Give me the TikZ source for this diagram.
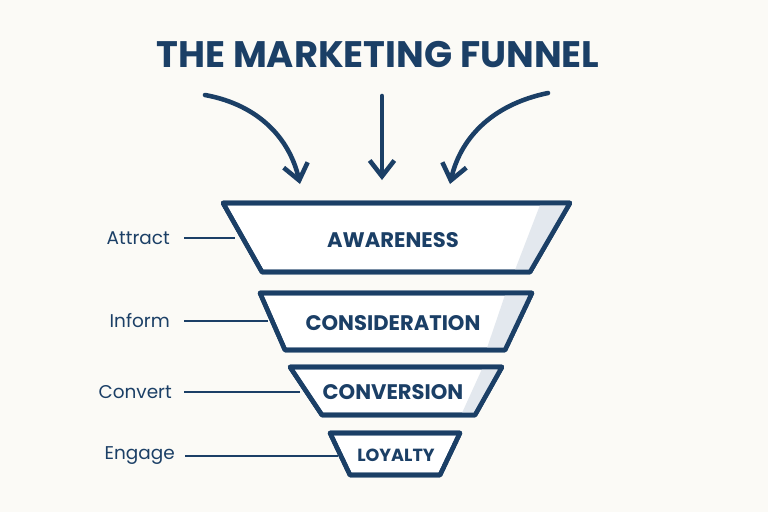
\documentclass[tikz,border=0pt]{standalone}
\usepackage{fontspec}
\setmainfont{Poppins}
\usetikzlibrary{arrows.meta}
\definecolor{navy}{HTML}{1B3F66}
\definecolor{stripe}{HTML}{E3E8EE}
\definecolor{paper}{HTML}{FBFAF6}
\tikzset{
  stage/.style={draw=navy, line width=2.6pt, line join=round, fill=white},
  stagetext/.style={text=navy, font=\bfseries\fontsize{12}{14}\selectfont},
  side/.style={text=navy, font=\fontsize{10.5}{13}\selectfont, anchor=east},
  tick/.style={draw=navy, line width=1pt},
  pull/.style={draw=navy, line width=2.6pt, line cap=round, -{Straight Barb[length=9pt,width=14pt,line width=2.6pt]}}
}
\begin{document}
\begin{tikzpicture}[x=0.02cm,y=-0.02cm]
\fill[paper] (0,0) rectangle (768,512);
\useasboundingbox (0,0) rectangle (768,512);

\node (title) at (378,55) [text=navy, font=\bfseries\fontsize{21}{24}\selectfont] {THE MARKETING FUNNEL};

% arrows into the funnel
\coordinate (a1) at (205,95);
\coordinate (b1) at (300,184);
\coordinate (a2) at (382,96);
\coordinate (b2) at (382,180);
\coordinate (a3) at (548,93);
\coordinate (b3) at (450,184);
\draw[pull] (a1) .. controls (260,105) and (290,140) .. (b1);
\draw[pull] (a2) -- (b2);
\draw[pull] (a3) .. controls (490,105) and (460,140) .. (b3);

% stages
\path[stage] (223,203) -- (570,203) -- (530,272) -- (262,272) -- cycle;
\fill[stripe] (540,205) -- (567,205) -- (530,270) -- (515,270) -- cycle;
\draw[stage, fill=none] (223,203) -- (570,203) -- (530,272) -- (262,272) -- cycle;
\path[stage] (260,293) -- (532,293) -- (505,350) -- (285,350) -- cycle;
\fill[stripe] (505,295) -- (529,295) -- (504,348) -- (487,348) -- cycle;
\draw[stage, fill=none] (260,293) -- (532,293) -- (505,350) -- (285,350) -- cycle;
\path[stage] (290,367) -- (502,367) -- (475,415) -- (322,415) -- cycle;
\fill[stripe] (482,369) -- (499,369) -- (474,413) -- (462,413) -- cycle;
\draw[stage, fill=none] (290,367) -- (502,367) -- (475,415) -- (322,415) -- cycle;
\path[stage] (330,433) -- (460,433) -- (440,475) -- (350,475) -- cycle;
\draw[stage, fill=none] (330,433) -- (460,433) -- (440,475) -- (350,475) -- cycle;

\node (S1) at (393,240) [stagetext] {AWARENESS};
\node (S2) at (393,323) [stagetext] {CONSIDERATION};
\node (S3) at (393,392) [stagetext] {CONVERSION};
\node (S4) at (396,455) [stagetext, font=\bfseries\fontsize{10}{12}\selectfont] {LOYALTY};

% side labels
\node (L1) at (176,238) [side] {Attract};
\node (L2) at (176,321) [side] {Inform};
\node (L3) at (178,392) [side] {Convert};
\node (L4) at (181,456) [side] {Engage};
\coordinate (e1) at (235,238);
\coordinate (e2) at (268,321);
\coordinate (e3) at (300,392);
\coordinate (e4) at (338,456);
\draw[tick] (L1.east) ++(8,0) -- (e1);
\draw[tick] (L2.east) ++(8,0) -- (e2);
\draw[tick] (L3.east) ++(6,0) -- (e3);
\draw[tick] (L4.east) ++(4,0) -- (e4);

\end{tikzpicture}
\end{document}
